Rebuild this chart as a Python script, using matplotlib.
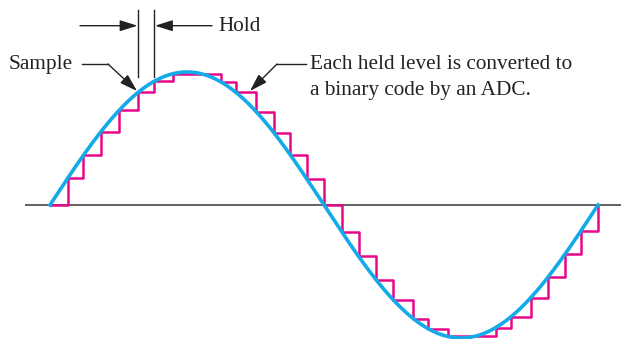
"""Sample-and-hold of a sine wave, with the held levels drawn as a staircase."""

import numpy
from matplotlib import pyplot

# Sample instants (degrees of one period) and the level held from each one.
sample_deg = [0.0, 11.6, 21.9, 33.5, 45.5, 58.0, 68.3, 80.8, 112.3, 122.2,
              135.3, 147.1, 157.7, 168.8, 180.0, 191.8, 202.8, 214.2, 225.5,
              238.7, 248.5, 261.3, 292.8, 303.0, 315.8, 327.0, 338.3, 348.8,
              360.0]
held_level = [0.0, 0.201, 0.373, 0.552, 0.713, 0.848, 0.929, 0.987, 0.925,
              0.846, 0.703, 0.543, 0.379, 0.194, 0.0, -0.204, -0.387, -0.562,
              -0.713, -0.854, -0.930, -0.988, -0.922, -0.839, -0.697, -0.545,
              -0.370, -0.194, 0.0]

label_hold = 'Hold'
label_sample = 'Sample'
label_adc = 'Each held level is converted to\na binary code by an ADC.'

blue = '#12aae8'
magenta = '#e8078a'
ink = '#222222'

pyplot.rc('font', family='Liberation Serif', size=15.3)

W, H = 621, 339
x0_px, deg_px = 50.0, 548.0 / 360.0     # pixel of 0 deg, pixels per degree
y0_px, amp_px = 205.0, 133.0            # pixel of zero line, pixels per unit


def px(x, y):
    """Convert a pixel position of the picture into data coordinates."""
    return (x - x0_px) / deg_px, (y0_px - y) / amp_px


fig = pyplot.figure(figsize=(W / 100, H / 100), dpi=100)
ax = fig.add_axes([0, 0, 1, 1])
ax.set_xlim(px(0, 0)[0], px(W, 0)[0])
ax.set_ylim(px(0, H)[1], px(0, 0)[1])
ax.axis('off')

# Zero line.
ax.hlines(0.0, px(25, 0)[0], px(W, 0)[0], color='#555555', linewidth=1.3)

# Staircase of held levels.
ax.step(sample_deg, held_level, where='post', color=magenta, linewidth=1.8,
        zorder=2)

# Analog signal.
t = numpy.linspace(0.0, 360.0, 721)
ax.plot(t, numpy.sin(numpy.radians(t)), color=blue, linewidth=2.6, zorder=3)

# "Hold" dimension marks around one hold interval.
arrow = dict(arrowstyle='-|>,head_length=0.7,head_width=0.22', color=ink,
             linewidth=1.0, shrinkA=0, shrinkB=0)
for s in (sample_deg[5], sample_deg[6]):
    ax.plot([s, s], [px(0, 10)[1], px(0, 77)[1]], color=ink, linewidth=1.0)
ax.annotate('', xy=px(137.5, 25.7), xytext=px(80, 25.7), arrowprops=arrow)
ax.annotate('', xy=px(155, 25.7), xytext=px(212, 25.7), arrowprops=arrow)
ax.text(*px(218, 26.5), label_hold, ha='left', va='center', color=ink)

# "Sample" callout.
ax.text(*px(9, 64), label_sample, ha='left', va='center', color=ink)
ax.plot(*zip(px(82, 64), px(108, 64)), color=ink, linewidth=1.0)
ax.annotate('', xy=px(137, 91), xytext=px(108, 64), arrowprops=arrow)

# ADC callout.
ax.text(*px(310, 77.5), label_adc, ha='left', va='center', color=ink,
        linespacing=1.45)
ax.plot(*zip(px(306, 64), px(277, 64)), color=ink, linewidth=1.0)
ax.annotate('', xy=px(250, 91), xytext=px(277, 64), arrowprops=arrow)

fig.savefig('out.png', dpi=100)
